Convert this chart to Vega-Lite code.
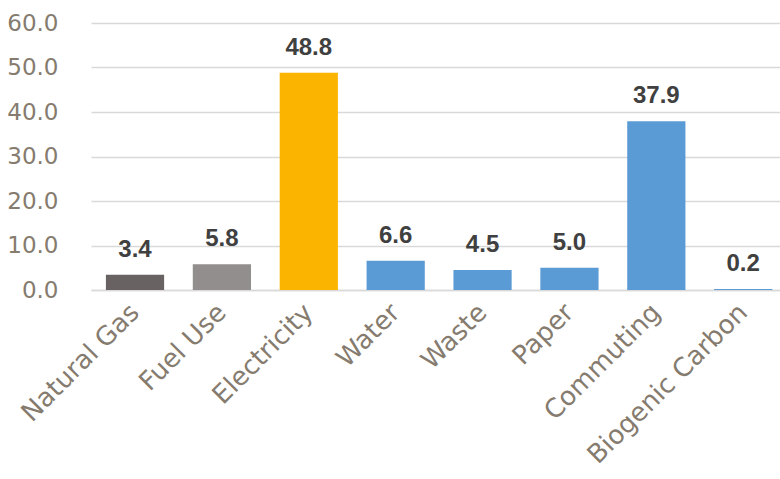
{
  "$schema": "https://vega.github.io/schema/vega-lite/v6.json",
  "width": 689,
  "height": 267,
  "autosize": {"type": "none"},
  "padding": {"left": 91, "top": 23, "right": 0, "bottom": 189},
  "background": "white",
  "data": {"values": [
    {"category": "Natural Gas", "value": 3.4, "group": "Natural Gas"},
    {"category": "Fuel Use", "value": 5.8, "group": "Fuel Use"},
    {"category": "Electricity", "value": 48.8, "group": "Electricity"},
    {"category": "Water", "value": 6.6, "group": "Other"},
    {"category": "Waste", "value": 4.5, "group": "Other"},
    {"category": "Paper", "value": 5.0, "group": "Other"},
    {"category": "Commuting", "value": 37.9, "group": "Other"},
    {"category": "Biogenic Carbon", "value": 0.2, "group": "Other"}
  ]},
  "config": {
    "view": {"stroke": null},
    "axis": {"labelFont": "DejaVu Sans", "labelColor": "#857b6e", "labelFontSize": 21}
  },
  "encoding": {
    "x": {
      "field": "category", "type": "nominal", "sort": null,
      "scale": {"paddingInner": 0.33, "paddingOuter": 0.13, "align": 0.66},
      "axis": {"title": null, "labelAngle": -45, "labelAlign": "right", "labelBaseline": "middle", "ticks": false, "labelPadding": 18, "labelFontSize": 26, "labelLimit": 400, "domainColor": "#d9d9d9", "domainWidth": 1.5}
    },
    "y": {
      "field": "value", "type": "quantitative",
      "scale": {"domain": [0, 60], "nice": false},
      "axis": {"title": null, "values": [0, 10, 20, 30, 40, 50, 60], "format": ".1f", "domain": false, "ticks": false, "labelPadding": 33, "gridColor": "#d9d9d9", "gridWidth": 1.5, "labelFontSize": 23}
    }
  },
  "layer": [
    {
      "mark": {"type": "bar"},
      "encoding": {
        "color": {
          "field": "group", "type": "nominal", "legend": null,
          "scale": {"domain": ["Natural Gas", "Fuel Use", "Electricity", "Other"], "range": ["#686262", "#928e8d", "#fbb400", "#5b9bd5"]}
        }
      }
    },
    {
      "mark": {"type": "text", "baseline": "alphabetic", "dy": -18, "font": "Liberation Sans", "fontWeight": "bold", "fontSize": 24, "color": "#404040"},
      "encoding": {"text": {"field": "value", "type": "quantitative", "format": ".1f"}}
    }
  ]
}
